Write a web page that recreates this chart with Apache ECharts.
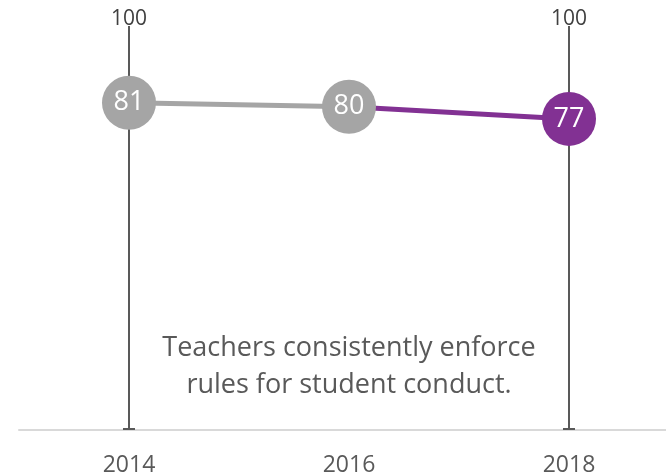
<!DOCTYPE html>
<html>
<head>
<meta charset="utf-8">
<script src="https://cdn.jsdelivr.net/npm/echarts@6/dist/echarts.min.js"></script>
<style>
  html, body { margin: 0; padding: 0; background: #fff; }
  #chart { width: 666px; height: 475px; }
</style>
</head>
<body>
<div id="chart"></div>
<script>
// 数据
const years = ['2014', '2016', '2018']
const grayValues = [81, 80, '-']
const purpleValues = ['-', 80, 77]
// 竖线 (0 - 100)
const rangeYears = ['2014', '2018']
const rangeLow = [0, 0]
const rangeHigh = [100, 100]
const caption = 'Teachers consistently enforce\nrules for student conduct.'

const FONT = '"Open Sans", "Noto Sans", sans-serif'
const GRAY = '#A5A5A5'
const PURPLE = '#823193'

const chart = echarts.init(document.getElementById('chart'))

const option = {
  animation: false,
  grid: { left: 19, width: 660, top: 26, bottom: 45, outerBoundsMode: 'none', containLabel: false },
  xAxis: {
    type: 'category',
    data: years,
    boundaryGap: true,
    axisLine: { lineStyle: { color: '#D9D9D9', width: 2 } },
    axisTick: { show: false },
    axisLabel: { color: '#595959', fontSize: 23, fontFamily: FONT, margin: 24 }
  },
  yAxis: {
    type: 'value',
    min: 0,
    max: 100,
    show: false
  },
  graphic: [{
    type: 'text',
    x: 349,
    y: 367,
    style: {
      text: caption,
      textAlign: 'center',
      textVerticalAlign: 'middle',
      font: '27px ' + FONT,
      lineHeight: 37,
      fill: '#595959'
    }
  }],
  series: [
    {
      type: 'custom',
      z: 1,
      data: rangeYears.map((y, i) => [y, rangeLow[i], rangeHigh[i]]),
      renderItem: function (params, api) {
        const low = api.coord([api.value(0), api.value(1)])
        const high = api.coord([api.value(0), api.value(2)])
        const st = { stroke: '#595959', lineWidth: 2 }
        return {
          type: 'group',
          children: [
            { type: 'line', shape: { x1: low[0], y1: low[1] - 1, x2: high[0], y2: high[1] }, style: st },
            { type: 'line', shape: { x1: low[0] - 6, y1: low[1] - 1, x2: low[0] + 6, y2: low[1] - 1 }, style: st },
            {
              type: 'text',
              x: high[0],
              y: high[1] + 4,
              style: {
                text: String(api.value(2)),
                textAlign: 'center',
                textVerticalAlign: 'bottom',
                font: '21px ' + FONT,
                fill: '#404040'
              }
            }
          ]
        }
      }
    },
    {
      type: 'line',
      z: 2,
      data: purpleValues.map((v, i) => i === 1 ? { value: v, symbol: 'none', label: { show: false } } : v),
      lineStyle: { color: PURPLE, width: 5 },
      itemStyle: { color: PURPLE },
      symbol: 'circle',
      symbolSize: 54,
      label: { show: true, position: 'inside', color: '#fff', fontSize: 27, fontFamily: FONT }
    },
    {
      type: 'line',
      z: 3,
      data: grayValues,
      lineStyle: { color: GRAY, width: 5 },
      itemStyle: { color: GRAY },
      symbol: 'circle',
      symbolSize: 54,
      label: { show: true, position: 'inside', color: '#fff', fontSize: 27, fontFamily: FONT }
    }
  ]
}

chart.setOption(option)
</script>
</body>
</html>
